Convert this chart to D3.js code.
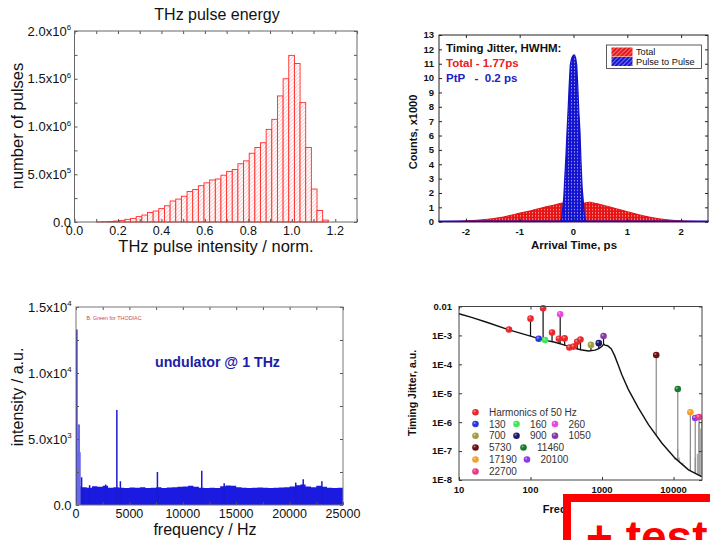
<!DOCTYPE html>
<html>
<head>
<meta charset="utf-8">
<script src="https://cdn.jsdelivr.net/npm/d3@7"></script>
<style>
  body { margin: 0; background: #fff; }
  svg { display: block; font-family: Arial, "Liberation Sans", sans-serif; }
</style>
</head>
<body>
<svg id="chart" width="710" height="540"></svg>
<script>

// ---------- panel 1: THz pulse energy histogram ----------
const energyBinStart = 0.102, energyBinWidth = 0.026;
const energyCounts = [
  0.002e6, 0.003e6, 0.005e6, 0.010e6, 0.017e6, 0.028e6, 0.038e6, 0.056e6, 0.073e6, 0.100e6,
  0.115e6, 0.140e6, 0.170e6, 0.220e6, 0.240e6, 0.270e6, 0.320e6, 0.340e6, 0.380e6, 0.410e6,
  0.440e6, 0.450e6, 0.490e6, 0.530e6, 0.550e6, 0.610e6, 0.640e6, 0.720e6, 0.780e6, 0.830e6,
  0.970e6, 1.075e6, 1.320e6, 1.500e6, 1.745e6, 1.660e6, 1.250e6, 0.780e6, 0.345e6, 0.120e6,
  0.020e6
];
const energyXTicks = [0, 0.2, 0.4, 0.6, 0.8, 1.0, 1.2];
const energyYTicks = [[0, '0.0', ''], [5e5, '5.0x10', '5'], [1e6, '1.0x10', '6'], [1.5e6, '1.5x10', '6'], [2e6, '2.0x10', '6']];

// ---------- panel 2: timing jitter ----------
const totalTime = [-2.5, -2.4, -2.3, -2.2, -2.1, -2.0, -1.9, -1.8, -1.7, -1.6, -1.5, -1.4, -1.3, -1.2, -1.1, -1.0,
  -0.9, -0.8, -0.7, -0.6, -0.5, -0.4, -0.3, -0.2, -0.1, 0, 0.1, 0.2, 0.3, 0.4, 0.5, 0.6, 0.7, 0.8, 0.9, 1.0,
  1.1, 1.2, 1.3, 1.4, 1.5, 1.6, 1.7, 1.8, 1.9, 2.0, 2.1, 2.2, 2.3, 2.4, 2.5];
const totalCounts = [0.01, 0.015, 0.02, 0.03, 0.04, 0.06, 0.08, 0.10, 0.13, 0.17, 0.21, 0.27, 0.33, 0.42, 0.50, 0.60,
  0.68, 0.76, 0.86, 0.95, 1.05, 1.12, 1.22, 1.30, 1.30, 1.32, 1.30, 1.30, 1.36, 1.28, 1.20, 1.10, 1.00, 0.90, 0.80, 0.70,
  0.60, 0.50, 0.41, 0.33, 0.26, 0.20, 0.15, 0.11, 0.08, 0.06, 0.04, 0.03, 0.02, 0.01, 0.01];
const ptpTime = [-2.5, -0.26, -0.24, -0.22, -0.20, -0.18, -0.16, -0.14, -0.12, -0.10, -0.08, -0.06, -0.04, -0.02, 0,
  0.02, 0.04, 0.06, 0.08, 0.10, 0.12, 0.14, 0.16, 0.18, 0.20, 0.22, 0.24, 2.5];
const ptpCounts = [0.04, 0.04, 0.05, 0.2, 0.9, 1.7, 3.2, 4.6, 6.3, 7.8, 9.5, 10.9, 11.3, 11.5, 11.6,
  11.6, 11.4, 10.9, 9.4, 7.6, 6.3, 4.1, 2.4, 1.5, 0.5, 0.15, 0.04, 0.04];
const jitterXTicks = [-2, -1, 0, 1, 2];
const jitterYTicks = d3.range(0, 14);

// ---------- panel 3: undulator spectrum ----------
const floorFreq = d3.range(0, 25001, 500);
const floorLevel = [1400, 1350, 1300, 1420, 1380, 1450, 1300, 1350, 1300, 1280, 1320, 1300, 1350, 1280, 1300, 1350,
  1280, 1320, 1350, 1380, 1400, 1450, 1380, 1300, 1280, 1300, 1280, 1420, 1480, 1450, 1350, 1300, 1280, 1300,
  1320, 1300, 1280, 1300, 1320, 1350, 1400, 1500, 1550, 1400, 1350, 1450, 1380, 1300, 1280, 1300, 1300];
const spikeFreq = [0, 80, 150, 230, 300, 450, 1200, 2700, 3750, 4080, 7550, 11700, 13800, 20500, 21200, 22950];
const spikeAmp  = [13300, 4100, 6100, 6100, 4000, 2100, 1500, 1550, 7200, 1800, 2500, 2600, 1650, 1700, 1950, 1800];
const specXTicks = [0, 5000, 10000, 15000, 20000, 25000];
const specYTicks = [[0, '0.0', ''], [5000, '5.0x10', '3'], [10000, '1.0x10', '4'], [15000, '1.5x10', '4']];

// ---------- panel 4: timing jitter spectrum ----------
const curveFreq   = [10, 15, 25, 50, 100, 150, 220, 300, 400, 500, 650, 800, 900, 1000, 1050, 1100, 1200, 1350,
  1500, 1700, 1880, 2330, 3220, 4460, 6850, 10500, 16200, 24700];
const curveJitter = [5.6e-3, 4.2e-3, 2.8e-3, 1.55e-3, 9.5e-4, 7e-4, 5.8e-4, 4.6e-4, 3.7e-4, 3.2e-4, 2.9e-4, 3.1e-4,
  3.5e-4, 4.2e-4, 5e-4, 4.6e-4, 4.4e-4, 3.4e-4, 2e-4, 9e-5, 4.5e-5, 1.36e-5, 3.1e-6, 8.2e-7, 1.9e-7, 5.7e-8, 2.25e-8, 1.3e-8];
const lineNames = ['Harmonics of 50 Hz', '130', '160', '260', '700', '900', '1050', '5730', '11460', '17190', '20100', '22700'];
const markerName  = ['Harmonics of 50 Hz', 'Harmonics of 50 Hz', 'Harmonics of 50 Hz', 'Harmonics of 50 Hz', 'Harmonics of 50 Hz',
  'Harmonics of 50 Hz', 'Harmonics of 50 Hz', 'Harmonics of 50 Hz', 'Harmonics of 50 Hz', 'Harmonics of 50 Hz',
  '130', '160', '260', '700', '900', '1050', '5730', '11460', '17190', '20100', '22700'];
const markerFreq  = [50, 100, 150, 200, 250, 300, 350, 400, 450, 500, 130, 160, 260, 700, 900, 1050, 5730, 11460, 17190, 20100, 22700];
const markerValue = [1.6e-3, 3.8e-3, 8.7e-3, 1.25e-3, 7.7e-4, 7.9e-4, 3.8e-4, 4.1e-4, 6e-4, 7.2e-4,
  7.7e-4, 6.9e-4, 5.4e-3, 4.7e-4, 5.4e-4, 9.5e-4, 2.1e-4, 1.4e-5, 2.2e-6, 1.4e-6, 1.5e-6];
const grassFreq  = [10500, 11460, 12000, 13500, 17190, 20100, 21500, 22700, 24000, 24800];
const grassValue = [5e-8, 1.2e-7, 6e-8, 4e-8, 1.1e-7, 6e-8, 8e-8, 9e-7, 6e-7, 1.3e-6];
const psdXTicks = [[10, '10'], [100, '100'], [1000, '1000'], [10000, '10000']];
const psdYTicks = [[1e-8, '1E-8'], [1e-7, '1E-7'], [1e-6, '1E-6'], [1e-5, '1E-5'], [1e-4, '1E-4'], [1e-3, '1E-3'], [1e-2, '0.01']];

const lineColor = {
  'Harmonics of 50 Hz': '#e8282c', '130': '#2a3ad8', '160': '#3ee85a', '260': '#e84ad8',
  '700': '#a0a040', '900': '#1a1a70', '1050': '#8a3aa0', '5730': '#6a1010',
  '11460': '#1a7a2a', '17190': '#f0a030', '20100': '#8a3ae8', '22700': '#e83a8a'
};

const svg = d3.select('#chart');
const defs = svg.append('defs');

// hatch & dot patterns
function hatch(id, bg, fg, size, w){
  const p = defs.append('pattern').attr('id', id).attr('patternUnits', 'userSpaceOnUse')
    .attr('width', size).attr('height', size).attr('patternTransform', 'rotate(45)');
  p.append('rect').attr('width', size).attr('height', size).attr('fill', bg);
  p.append('line').attr('x1', 0).attr('y1', 0).attr('x2', 0).attr('y2', size)
    .attr('stroke', fg).attr('stroke-width', w);
}
function dots(id, bg){
  const p = defs.append('pattern').attr('id', id).attr('patternUnits', 'userSpaceOnUse')
    .attr('width', 3).attr('height', 3.2);
  p.append('rect').attr('width', 3).attr('height', 3.2).attr('fill', bg);
  p.append('rect').attr('x', 1).attr('y', 1).attr('width', 1).attr('height', 1).attr('fill', '#fff').attr('opacity', 0.8);
}
hatch('hatchPink', '#fff', '#ffa0a0', 2.6, 1);
hatch('hatchRed', '#e81818', '#ffffff', 3, 0.8);
hatch('hatchBlue', '#1818d0', '#ffffff', 3, 0.8);
dots('dotsRed', '#e81414');
dots('dotsBlue', '#1414d0');

function innerTicks(g, x, y, xt, yt, len, color){
  const xr = x.range(), yr = y.range();
  g.append('g').attr('transform', `translate(0,${yr[0]})`).call(d3.axisBottom(x).tickValues(xt).tickSize(-len).tickFormat(''));
  g.append('g').attr('transform', `translate(0,${yr[1]})`).call(d3.axisTop(x).tickValues(xt).tickSize(-len).tickFormat(''));
  g.append('g').attr('transform', `translate(${xr[0]},0)`).call(d3.axisLeft(y).tickValues(yt).tickSize(-len).tickFormat(''));
  g.append('g').attr('transform', `translate(${xr[1]},0)`).call(d3.axisRight(y).tickValues(yt).tickSize(-len).tickFormat(''));
  g.selectAll('.domain').remove();
  g.selectAll('.tick line').attr('stroke', color);
}
function frame(g, x, y, color, w){
  const xr = x.range(), yr = y.range();
  g.append('rect').attr('x', xr[0]).attr('y', yr[1]).attr('width', xr[1] - xr[0]).attr('height', yr[0] - yr[1])
    .attr('fill', 'none').attr('stroke', color).attr('stroke-width', w);
}
function sciText(g, px, py, mant, exp, size){
  const t = g.append('text').attr('x', px).attr('y', py).attr('text-anchor', 'end')
    .attr('font-size', size).attr('fill', '#111');
  t.append('tspan').text(mant);
  if (exp) t.append('tspan').attr('dy', -size * 0.42).attr('font-size', size * 0.6).text(exp);
}

// ================= panel 1 =================
const p1 = svg.append('g');
const x1 = d3.scaleLinear().domain([0, 1.3]).range([74.5, 357]);
const y1 = d3.scaleLinear().domain([0, 2e6]).range([222, 31]);

p1.selectAll('rect.bar').data(energyCounts).enter().append('rect')
  .attr('x', (d, i) => x1(energyBinStart + i * energyBinWidth))
  .attr('width', x1(energyBinWidth) - x1(0))
  .attr('y', d => y1(d))
  .attr('height', d => y1(0) - y1(d))
  .attr('fill', 'url(#hatchPink)')
  .attr('stroke', '#ff2a2a')
  .attr('stroke-width', 0.9);

innerTicks(p1, x1, y1, d3.range(0, 1.31, 0.1), d3.range(0, 2.01e6, 2.5e5), 3, '#555');
frame(p1, x1, y1, '#666', 1);

energyXTicks.forEach(v => {
  p1.append('text').attr('x', x1(v)).attr('y', 235).attr('text-anchor', 'middle')
    .attr('font-size', 12.5).attr('fill', '#111').text(v.toFixed(1));
});
energyYTicks.forEach(t => sciText(p1, 71, y1(t[0]) + 4.5, t[1], t[2], 13));

p1.append('text').attr('x', 217).attr('y', 20).attr('text-anchor', 'middle')
  .attr('font-size', 16).attr('fill', '#111').text('THz pulse energy');
p1.append('text').attr('x', 216).attr('y', 252).attr('text-anchor', 'middle')
  .attr('font-size', 16.5).attr('fill', '#111').text('THz pulse intensity / norm.');
p1.append('text').attr('transform', 'translate(23,126) rotate(-90)').attr('text-anchor', 'middle')
  .attr('font-size', 16.5).attr('fill', '#111').text('number of pulses');

// ================= panel 2 =================
const p2 = svg.append('g').attr('font-weight', 'bold');
const x2 = d3.scaleLinear().domain([-2.5, 2.5]).range([439, 708]);
const y2 = d3.scaleLinear().domain([0, 13]).range([221.7, 35]);

const totalData = totalTime.map((t, i) => [t, totalCounts[i]]);
const ptpData = ptpTime.map((t, i) => [t, ptpCounts[i]]);

p2.append('path').datum(totalData)
  .attr('d', d3.area().x(d => x2(d[0])).y0(y2(0)).y1(d => y2(d[1])).curve(d3.curveMonotoneX))
  .attr('fill', 'url(#dotsRed)').attr('stroke', '#e01010').attr('stroke-width', 1);
p2.append('path').datum(ptpData)
  .attr('d', d3.area().x(d => x2(d[0])).y0(y2(0)).y1(d => y2(d[1])))
  .attr('fill', 'url(#dotsBlue)').attr('stroke', '#1010c8').attr('stroke-width', 1.2);

innerTicks(p2, x2, y2, jitterXTicks, jitterYTicks, 3, '#222');
frame(p2, x2, y2, '#222', 1);

jitterXTicks.forEach(v => {
  p2.append('text').attr('x', x2(v)).attr('y', 235).attr('text-anchor', 'middle')
    .attr('font-size', 9.5).attr('fill', '#111').text(v);
});
jitterYTicks.forEach(v => {
  p2.append('text').attr('x', 434).attr('y', y2(v) + 3.4).attr('text-anchor', 'end')
    .attr('font-size', 9.5).attr('fill', '#111').text(v);
});
p2.append('text').attr('x', 574).attr('y', 249).attr('text-anchor', 'middle')
  .attr('font-size', 11.5).attr('fill', '#111').text('Arrival Time, ps');
p2.append('text').attr('transform', 'translate(417,132) rotate(-90)').attr('text-anchor', 'middle')
  .attr('font-size', 11).attr('fill', '#111').text('Counts, x1000');

p2.append('text').attr('x', 446).attr('y', 52).attr('font-size', 11.5).attr('fill', '#111').text('Timing Jitter, HWHM:');
p2.append('text').attr('x', 446).attr('y', 67).attr('font-size', 11.5).attr('fill', '#e82020').text('Total - 1.77ps');
p2.append('text').attr('x', 446).attr('y', 82).attr('font-size', 11.5).attr('fill', '#2020c8')
  .style('white-space', 'pre').text('PtP   -  0.2 ps');

const lg2 = p2.append('g').attr('font-weight', 'normal');
lg2.append('rect').attr('x', 606.5).attr('y', 45).attr('width', 95).attr('height', 23.5)
  .attr('fill', '#fff').attr('stroke', '#333').attr('stroke-width', 0.8);
lg2.append('rect').attr('x', 611.5).attr('y', 47.5).attr('width', 21).attr('height', 9).attr('fill', 'url(#hatchRed)');
lg2.append('rect').attr('x', 611.5).attr('y', 57).attr('width', 21).attr('height', 9).attr('fill', 'url(#hatchBlue)');
lg2.append('text').attr('x', 636).attr('y', 55).attr('font-size', 9.2).attr('fill', '#111').text('Total');
lg2.append('text').attr('x', 636).attr('y', 64.8).attr('font-size', 9.2).attr('fill', '#111').text('Pulse to Pulse');

// ================= panel 3 =================
const p3 = svg.append('g');
const x3 = d3.scaleLinear().domain([0, 25000]).range([76, 343]);
const y3 = d3.scaleLinear().domain([0, 15000]).range([505, 307]);

const floorData = floorFreq.map((f, i) => [f, floorLevel[i]]);
p3.append('path').datum(floorData)
  .attr('d', d3.area().x(d => x3(d[0])).y0(y3(0)).y1(d => y3(d[1])).curve(d3.curveStepAfter))
  .attr('fill', '#1a1ae0');
p3.selectAll('line.spike').data(spikeFreq).enter().append('line')
  .attr('x1', d => x3(d) + 0.8).attr('x2', d => x3(d) + 0.8)
  .attr('y1', y3(0)).attr('y2', (d, i) => y3(spikeAmp[i]))
  .attr('stroke', (d, i) => i > 0 && i < 5 ? '#6a6ae8' : '#1a1ad0')
  .attr('stroke-width', 1.5);

innerTicks(p3, x3, y3, d3.range(0, 25001, 2500), d3.range(0, 15001, 2500), 3, '#555');
frame(p3, x3, y3, '#777', 1);

specXTicks.forEach(v => {
  p3.append('text').attr('x', x3(v)).attr('y', 518).attr('text-anchor', 'middle')
    .attr('font-size', 12.5).attr('fill', '#111').text(v);
});
specYTicks.forEach(t => sciText(p3, 71.5, y3(t[0]) + 4.5, t[1], t[2], 13));

p3.append('text').attr('x', 205).attr('y', 535).attr('text-anchor', 'middle')
  .attr('font-size', 16).attr('fill', '#111').text('frequency / Hz');
p3.append('text').attr('transform', 'translate(23,397) rotate(-90)').attr('text-anchor', 'middle')
  .attr('font-size', 16).attr('fill', '#111').text('intensity / a.u.');
p3.append('text').attr('x', 155).attr('y', 367).attr('font-size', 14.2).attr('font-weight', 'bold')
  .attr('fill', '#1c1ca8').text('undulator @ 1 THz');
p3.append('text').attr('x', 86.5).attr('y', 320).attr('font-size', 5.4)
  .attr('fill', '#d04a4a').text('B. Green for THODIAC');

// ================= panel 4 =================
const p4 = svg.append('g').attr('font-weight', 'bold');
const x4 = d3.scaleLog().domain([10, 25000]).range([459, 702]);
const y4 = d3.scaleLog().domain([1e-8, 1e-2]).range([480, 306.5]);

const lx = curveFreq.map(Math.log10), ly = curveJitter.map(Math.log10);
function curveAt(f){
  const l = Math.log10(f);
  let i = d3.bisectRight(lx, l) - 1;
  i = Math.max(0, Math.min(lx.length - 2, i));
  const t = (l - lx[i]) / (lx[i + 1] - lx[i]);
  return Math.pow(10, ly[i] + t * (ly[i + 1] - ly[i]));
}

p4.selectAll('line.grass').data(grassFreq).enter().append('line')
  .attr('x1', d => x4(d)).attr('x2', d => x4(d))
  .attr('y1', d => y4(curveAt(d))).attr('y2', (d, i) => y4(grassValue[i]))
  .attr('stroke', '#999').attr('stroke-width', 1);
p4.selectAll('line.spike').data(markerFreq).enter().append('line')
  .attr('x1', d => x4(d)).attr('x2', d => x4(d))
  .attr('y1', d => y4(curveAt(d))).attr('y2', (d, i) => y4(markerValue[i]))
  .attr('stroke', d => d > 3000 ? '#888' : '#111').attr('stroke-width', 1.2);

p4.append('path').datum(curveFreq.map((f, i) => [f, curveJitter[i]]))
  .attr('d', d3.line().x(d => x4(d[0])).y(d => y4(d[1])))
  .attr('fill', 'none').attr('stroke', '#111').attr('stroke-width', 1.4);

function ball(g, cx, cy, col){
  g.append('circle').attr('cx', cx).attr('cy', cy).attr('r', 3.3).attr('fill', col);
  g.append('circle').attr('cx', cx - 0.9).attr('cy', cy - 1).attr('r', 1.1).attr('fill', '#fff').attr('opacity', 0.45);
}
markerFreq.forEach((f, i) => ball(p4, x4(f), y4(markerValue[i]), lineColor[markerName[i]]));

innerTicks(p4, x4, y4, psdXTicks.map(d => d[0]), psdYTicks.map(d => d[0]), 3, '#333');
frame(p4, x4, y4, '#444', 1);

psdXTicks.forEach(t => {
  p4.append('text').attr('x', x4(t[0])).attr('y', 493).attr('text-anchor', 'middle')
    .attr('font-size', 9.5).attr('fill', '#111').text(t[1]);
});
psdYTicks.forEach(t => {
  p4.append('text').attr('x', 452).attr('y', y4(t[0]) + 3.4).attr('text-anchor', 'end')
    .attr('font-size', 9.5).attr('fill', '#111').text(t[1]);
});
p4.append('text').attr('transform', 'translate(416,393) rotate(-90)').attr('text-anchor', 'middle')
  .attr('font-size', 10.5).attr('fill', '#111').text('Timing Jitter, a.u.');
p4.append('text').attr('x', 580).attr('y', 513).attr('text-anchor', 'middle')
  .attr('font-size', 11).attr('fill', '#111').text('Frequency, Hz');

// legend of panel 4 (positions per entry)
const legendSlots = [[475.5, 412.3], [475.5, 424], [516.5, 424], [555, 424], [475.5, 435.7], [516.5, 435.7], [555, 435.7],
  [475.5, 447.5], [523.5, 447.5], [475.5, 459.5], [527, 459.5], [475.5, 471.5]];
const lg4 = p4.append('g').attr('font-weight', 'normal');
lineNames.forEach((n, i) => {
  const s = legendSlots[i];
  ball(lg4, s[0], s[1], lineColor[n]);
  lg4.append('text').attr('x', s[0] + 13.5).attr('y', s[1] + 3.6).attr('font-size', 10)
    .attr('fill', '#333').text(n);
});

// ================= overlay box =================
const ov = svg.append('g');
ov.append('rect').attr('x', 567).attr('y', 498).attr('width', 200).attr('height', 100)
  .attr('fill', '#fff').attr('stroke', '#ff0000').attr('stroke-width', 8);
ov.append('text').attr('x', 586).attr('y', 553).attr('font-size', 46).attr('font-weight', 'bold')
  .attr('fill', '#ff0000').text('+ test');

</script>
</body>
</html>
